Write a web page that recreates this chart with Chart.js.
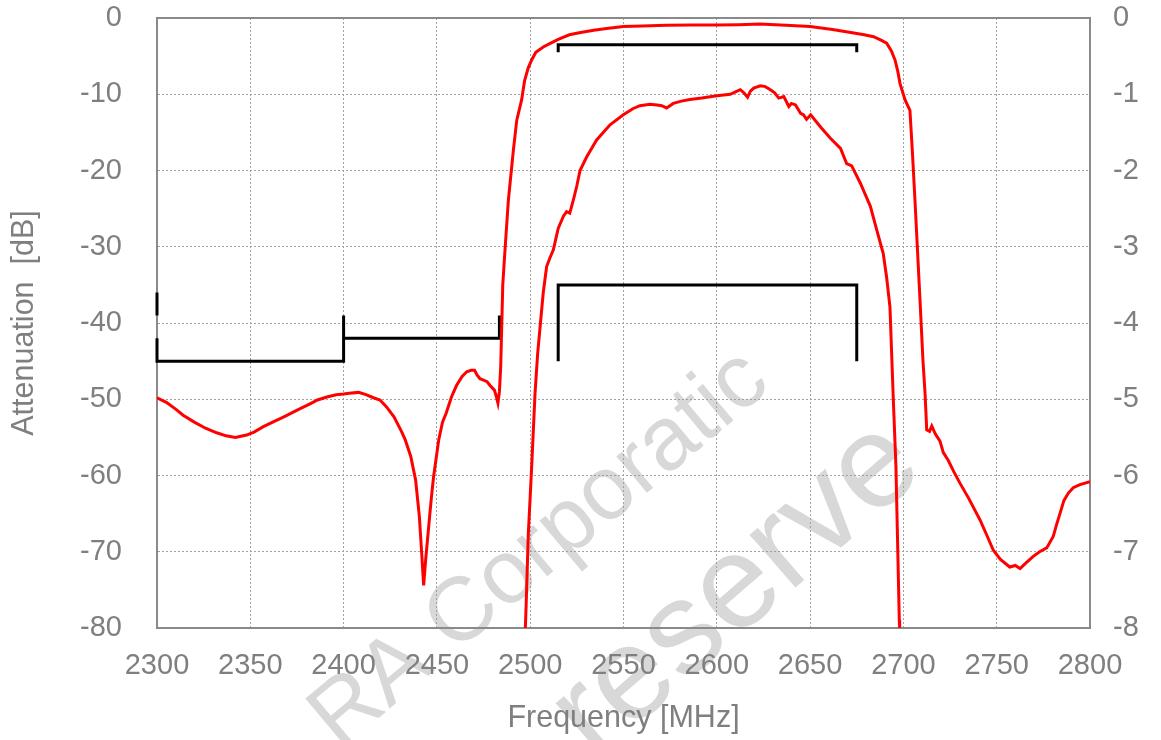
<!DOCTYPE html>
<html>
<head>
<meta charset="utf-8">
<script src="https://cdn.jsdelivr.net/npm/chart.js@4.4.1/dist/chart.umd.min.js"></script>
<style>
html,body{margin:0;padding:0;background:#fff;}
#wrap{position:relative;width:1161px;height:740px;}
</style>
</head>
<body>
<div id="wrap"><canvas id="c" width="1161" height="740"></canvas></div>
<script>
// ---- data ----
const wideFreq = [2300,2305,2310,2314,2320,2326,2332,2337,2342,2348,2352,2357,2362,2368,2373,2377,2382,2386,2391,2396,2400,2403,2408,2412,2416,2419.5,2423,2427,2431,2433,2436,2438.6,2440.6,2441.8,2442.9,2444,2445.3,2447,2448.2,2451,2453,2455,2457.8,2460.5,2463.5,2466,2468.3,2470.2,2471.5,2473.1,2475,2476.9,2478.5,2480.8,2481.8,2482.7,2483.5,2484.2,2485.3,2486.5,2488.3,2491,2492.8,2495.4,2497,2499,2500.8,2503,2507,2511,2515,2521,2527,2534,2542,2550,2560,2573,2587,2600,2612,2623,2637,2650,2662,2671,2679,2684,2688,2691,2693.5,2695.5,2697,2698.2,2700.9,2703.5,2704.8,2706.2,2708.9,2710.5,2711.6,2712.5,2714,2715.2,2717,2719.6,2721.4,2724,2727,2730.3,2735,2741,2745,2748.2,2752,2757,2760,2762.5,2766,2769.6,2773,2776.8,2780.3,2782,2783.9,2786,2788.4,2791,2794.6,2800];
const wideAtt = [-49.8,-50.4,-51.3,-52.1,-53.0,-53.8,-54.4,-54.8,-55.0,-54.7,-54.3,-53.6,-53.0,-52.3,-51.7,-51.2,-50.6,-50.1,-49.7,-49.4,-49.3,-49.2,-49.1,-49.4,-49.8,-50.1,-51.0,-52.3,-54.2,-55.3,-57.5,-60.6,-65.4,-70,-74.4,-71,-67.5,-63,-60.2,-55.3,-53,-51.8,-49.7,-48.2,-47.0,-46.4,-46.2,-46.2,-46.8,-47.3,-47.5,-47.7,-48.2,-48.8,-49.6,-50.5,-49,-45.7,-35,-30.4,-23.9,-17.3,-13.4,-10.75,-8.2,-6.5,-5.5,-4.5,-3.8,-3.3,-2.8,-2.2,-1.9,-1.6,-1.35,-1.13,-1.05,-0.96,-0.93,-0.92,-0.88,-0.79,-0.95,-1.13,-1.5,-1.88,-2.2,-2.45,-2.9,-3.3,-4.3,-5.5,-7,-8.6,-10.75,-12.1,-17.5,-23.9,-37,-45,-49.2,-54.0,-54.2,-53.5,-54.5,-55.5,-57,-58,-59.5,-61,-63,-65.8,-68,-69.8,-71,-72.0,-71.8,-72.2,-71.4,-70.6,-70,-69.5,-68,-66.5,-65,-63.3,-62.3,-61.6,-61.2,-60.8];

const passFreq = [2497.4,2497.8,2499,2500.8,2502.6,2504,2505.3,2507,2508.8,2510.5,2512.4,2515,2517.8,2519.5,2521.2,2523.1,2525,2526.7,2530.3,2535.6,2542.8,2549.9,2555,2558.8,2564.2,2568,2570.5,2573.1,2576.7,2581,2585.6,2592,2600,2607.2,2610,2612.6,2614.5,2616.5,2618,2619.8,2623.3,2626,2628.7,2631,2633.2,2635.9,2638.6,2640,2642.2,2644.9,2646.5,2648.1,2650.3,2655.6,2661,2666.3,2669.6,2672.3,2677,2682.3,2685.7,2689.2,2691,2692.8,2694.6,2696,2697.8,2698];
const passAtt = [-8.0,-7.72,-6.76,-5.88,-4.92,-4.4,-4.05,-3.6,-3.26,-3.15,-3.04,-2.76,-2.6,-2.54,-2.56,-2.39,-2.2,-2.0,-1.82,-1.6,-1.40,-1.27,-1.19,-1.15,-1.13,-1.14,-1.15,-1.18,-1.12,-1.09,-1.07,-1.05,-1.02,-1.0,-0.97,-0.94,-0.98,-1.04,-0.96,-0.92,-0.89,-0.9,-0.94,-0.98,-1.05,-1.03,-1.16,-1.12,-1.14,-1.25,-1.27,-1.33,-1.27,-1.43,-1.58,-1.71,-1.91,-1.94,-2.17,-2.47,-2.78,-3.09,-3.4,-3.79,-5.01,-5.88,-7.9,-8.0];

// spec masks
const maskTickFreq = [2300, 2300];
const maskTickAtt = [-36, -39];
const maskLowFreq = [2300, 2300, 2400, 2400];
const maskLowAtt = [-42, -45, -45, -39];
const maskMidFreq = [2400, 2483.5, 2483.5];
const maskMidAtt = [-42, -42, -39];
const passSpecFreq = [2515, 2515, 2675, 2675];
const passSpecWide = [-4.5, -3.5, -3.5, -4.5];   // left axis
const passSpecZoom = [-4.5, -3.5, -3.5, -4.5];   // right axis

const xTicks = [2300,2350,2400,2450,2500,2550,2600,2650,2700,2750,2800];
const yLeftTicks = [0,-10,-20,-30,-40,-50,-60,-70,-80];
const yRightTicks = [0,-1,-2,-3,-4,-5,-6,-7,-8];

const pts = (xs, ys) => xs.map((x, i) => ({x, y: ys[i]}));

const GRAY = '#7f7f7f';
const FONT = 'Liberation Sans, Arial, sans-serif';
const TICK_SIZE = 29;
const TITLE_SIZE = 30.5;

const watermark = {
  id: 'watermark',
  beforeDraw(chart) {
    const ctx = chart.ctx;
    ctx.save();
    ctx.fillStyle = '#d8d8d8';
    ctx.textAlign = 'center';
    ctx.textBaseline = 'middle';
    ctx.font = '90px ' + FONT;
    ctx.translate(540, 550);
    ctx.rotate(-40 * Math.PI / 180);
    ctx.fillText('RA Corporatic', 0, 0);
    ctx.restore();
    ctx.save();
    ctx.fillStyle = '#d8d8d8';
    ctx.textAlign = 'center';
    ctx.textBaseline = 'middle';
    ctx.font = '132px ' + FONT;
    ctx.translate(737, 590);
    ctx.rotate(-41 * Math.PI / 180);
    ctx.fillText('reserve', 0, 0);
    ctx.restore();
  },
  beforeDatasetsDraw(chart) {
    const ctx = chart.ctx;
    const a = chart.chartArea;
    ctx.save();
    ctx.strokeStyle = '#8a8a8a';
    ctx.lineWidth = 2;
    ctx.strokeRect(a.left, a.top, a.right - a.left, a.bottom - a.top);
    ctx.restore();
  }
};

const blackDs = (xs, ys, axis) => ({
  data: pts(xs, ys), yAxisID: axis, borderColor: '#000', borderWidth: 3,
  pointRadius: 0, tension: 0, clip: 6, borderCapStyle: 'butt', borderJoinStyle: 'miter'
});

const noPadV = s => { s.paddingTop = 0; s.paddingBottom = 0; };

new Chart(document.getElementById('c'), {
  type: 'line',
  data: {
    datasets: [
      {data: pts(wideFreq, wideAtt), yAxisID: 'y', borderColor: '#ff0000', borderWidth: 3, pointRadius: 0, tension: 0},
      {data: pts(passFreq, passAtt), yAxisID: 'y2', borderColor: '#ff0000', borderWidth: 3, pointRadius: 0, tension: 0},
      blackDs(maskTickFreq, maskTickAtt, 'y'),
      blackDs(maskLowFreq, maskLowAtt, 'y'),
      blackDs(maskMidFreq, maskMidAtt, 'y'),
      blackDs(passSpecFreq, passSpecWide, 'y'),
      blackDs(passSpecFreq, passSpecZoom, 'y2')
    ]
  },
  options: {
    responsive: false,
    animation: false,
    layout: {padding: {top: 18, left: 0, right: 0, bottom: 0}},
    plugins: {legend: {display: false}, tooltip: {enabled: false}},
    scales: {
      x: {
        type: 'linear', min: 2300, max: 2800,
        afterBuildTicks: s => { s.ticks = xTicks.map(v => ({value: v})); },
        afterFit: s => { s.height = 112; s.paddingLeft = 0; s.paddingRight = 0; },
        ticks: {color: GRAY, font: {family: FONT, size: TICK_SIZE}, padding: 21, maxRotation: 0, autoSkip: false,
                callback: v => String(v)},
        grid: {color: '#a0a0a0', lineWidth: 1, drawTicks: false},
        border: {display: true, color: '#8a8a8a', width: 2, dash: [2, 2]},
        title: {display: true, text: 'Frequency [MHz]', color: GRAY, font: {family: FONT, size: TITLE_SIZE}, padding: {top: 0, bottom: 3}}
      },
      y: {
        position: 'left', min: -80, max: 0,
        afterBuildTicks: s => { s.ticks = yLeftTicks.map(v => ({value: v})); },
        afterFit: s => { s.width = 157; noPadV(s); },
        ticks: {color: GRAY, font: {family: FONT, size: TICK_SIZE}, padding: 35, callback: v => String(v)},
        grid: {color: '#a0a0a0', lineWidth: 1, drawTicks: false},
        border: {display: true, color: '#8a8a8a', width: 2, dash: [2, 2]},
        title: {display: true, text: 'Attenuation  [dB]', color: GRAY, font: {family: FONT, size: TITLE_SIZE}, padding: {top: 6, bottom: 0}}
      },
      y2: {
        position: 'right', min: -8, max: 0,
        afterBuildTicks: s => { s.ticks = yRightTicks.map(v => ({value: v})); },
        afterFit: s => { s.width = 71; noPadV(s); },
        ticks: {color: GRAY, font: {family: FONT, size: TICK_SIZE}, padding: 23, callback: v => String(v)},
        grid: {drawOnChartArea: false, drawTicks: false},
        border: {display: true, color: '#8a8a8a', width: 2}
      }
    }
  },
  plugins: [watermark]
});
</script>
</body>
</html>
